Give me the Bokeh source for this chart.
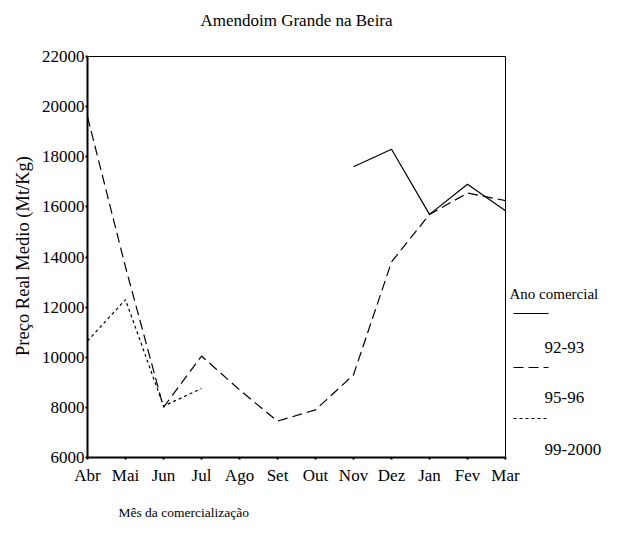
import math
from bokeh.plotting import figure
from bokeh.layouts import column
from bokeh.models import FixedTicker, Range1d, Title
from bokeh.core.properties import value
from bokeh.embed import file_html
from bokeh.resources import INLINE

nan = math.nan

# ---- data ----
months = ["Abr", "Mai", "Jun", "Jul", "Ago", "Set", "Out", "Nov", "Dez", "Jan", "Fev", "Mar"]
s_92_93 = [nan, nan, nan, nan, nan, nan, nan, 17600, 18300, 15700, 16900, 15850]
s_95_96 = [19600, 13600, 8000, 10050, 8700, 7450, 7900, 9300, 13800, 15700, 16550, 16250]
s_99_00 = [10650, 12300, 8050, 8750, nan, nan, nan, nan, nan, nan, nan, nan]
series_names = ["92-93", "95-96", "99-2000"]
y_ticks = [6000, 8000, 10000, 12000, 14000, 16000, 18000, 20000, 22000]
title_text = "Amendoim Grande na Beira"

FONT = "Liberation Serif"
W, H = 610, 536
LEFT, TOP, BOTTOM = 87, 54, 457          # frame edges on the page (px)
TITLE_H = 40                             # height of the title strip
PX_PER_MONTH = 38
x = list(range(len(months)))

# ---- title strip ----
tfig = figure(width=W, height=TITLE_H, output_backend="svg", toolbar_location=None,
              x_range=Range1d(LEFT, W), y_range=Range1d(TITLE_H, 0),
              min_border_left=LEFT, min_border_right=0, min_border_top=0,
              min_border_bottom=0, outline_line_color=None)
tfig.axis.visible = False
tfig.grid.visible = False
tfig.border_fill_color = "white"
tfig.text(x=[296], y=[20], text=[title_text], text_font=value(FONT), text_font_size="17px",
          text_align="center", text_baseline="middle", text_color="black")

# ---- main chart: frame extends to the right edge so the legend can live inside it ----
fig = figure(width=W, height=H - TITLE_H, output_backend="svg", toolbar_location=None,
             x_range=Range1d(0, (W - LEFT) / PX_PER_MONTH),
             y_range=Range1d(y_ticks[0], y_ticks[-1] + 80),
             min_border_left=LEFT, min_border_right=0, min_border_top=TOP - TITLE_H,
             min_border_bottom=H - BOTTOM)
fig.extra_x_ranges = {"px": Range1d(LEFT, W)}
fig.extra_y_ranges = {"py": Range1d(BOTTOM, TOP)}

fig.grid.visible = False
fig.outline_line_color = None
fig.background_fill_color = "white"
fig.border_fill_color = "white"

styles = [dict(line_dash="solid"), dict(line_dash="10 5"), dict(line_dash="3 3")]
for ys, st in zip([s_92_93, s_95_96, s_99_00], styles):
    fig.line(x, ys, line_color="black", line_width=1.2, **st)

# top and right sides of the data box
fig.line([x[0], x[-1]], [y_ticks[-1], y_ticks[-1]], line_color="black", line_width=1)
fig.line([x[-1], x[-1]], [y_ticks[0], y_ticks[-1]], line_color="black", line_width=1)

# axes
fig.xaxis.ticker = FixedTicker(ticks=x)
fig.xaxis.major_label_overrides = {i: m for i, m in enumerate(months)}
fig.xaxis.bounds = (x[0], x[-1])
fig.yaxis.ticker = FixedTicker(ticks=y_ticks)
fig.yaxis.bounds = (y_ticks[0], y_ticks[-1])
for ax in (fig.xaxis[0], fig.yaxis[0]):
    ax.axis_line_color = "black"
    ax.axis_line_width = 2
    ax.major_tick_in = 0
    ax.major_tick_out = 2
    ax.major_tick_line_width = 2
    ax.minor_tick_line_color = None
    ax.major_label_text_font = FONT
    ax.major_label_text_font_size = "17px"
    ax.major_label_text_color = "black"
fig.yaxis.major_label_standoff = 1
fig.xaxis.major_label_standoff = 6
fig.yaxis.formatter.use_scientific = False
fig.yaxis.axis_label = "Preço Real Medio (Mt/Kg)"
fig.yaxis.axis_label_text_font = FONT
fig.yaxis.axis_label_text_font_size = "18.5px"
fig.yaxis.axis_label_text_font_style = "normal"
fig.yaxis.axis_label_text_color = "black"
fig.yaxis.axis_label_standoff = 6

fig.add_layout(Title(text="Mês da comercialização", text_font=FONT, text_font_size="13.5px",
                     text_font_style="normal", align="left", offset=31, standoff=30,
                     text_color="black"), "below")

# ---- legend (symbol row above each label row, as in the reference), page-pixel coords ----
kw = dict(x_range_name="px", y_range_name="py")
fig.text(x=[509], y=[293], text=["Ano comercial"], text_font=value(FONT),
         text_font_size="15px", text_align="left", text_baseline="middle",
         text_color="black", **kw)
line_y = [313, 367, 418]
label_y = [347, 397, 449]
for name, st, ly, ty in zip(series_names, styles, line_y, label_y):
    fig.line([513, 548], [ly, ly], line_color="black", line_width=1.2, **st, **kw)
    fig.text(x=[544], y=[ty], text=[name], text_font=value(FONT), text_font_size="17px",
             text_align="left", text_baseline="middle", text_color="black", **kw)

p = column(tfig, fig)
open("out.html", "w").write(file_html(p, INLINE))
